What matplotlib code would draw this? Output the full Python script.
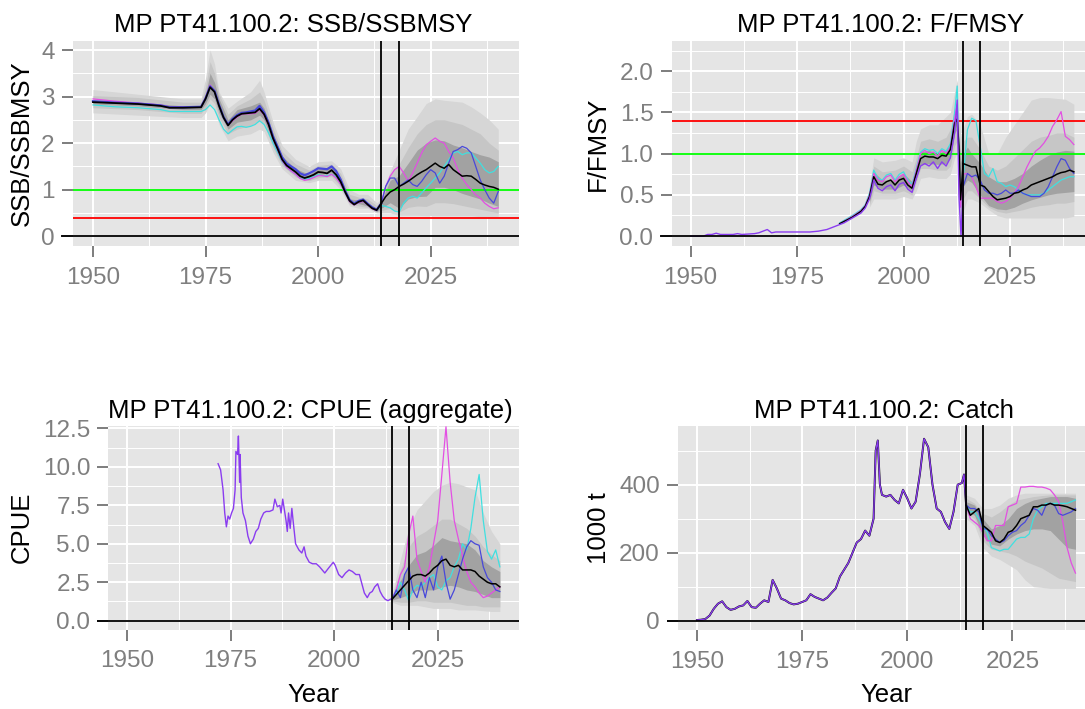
import matplotlib
matplotlib.use("Agg")
import matplotlib.pyplot as plt
import matplotlib.transforms as mtransforms

plt.rcParams['font.family'] = ['Liberation Sans', 'DejaVu Sans']

# ---------------------------------------------------------------- data
MP_NAME = "MP PT41.100.2"
TITLES = ["SSB/SSBMSY", "F/FMSY", "CPUE (aggregate)", "Catch"]
YLABELS = ["SSB/SSBMSY", "F/FMSY", "CPUE", "1000 t"]
X_TICKS = [1950, 1975, 2000, 2025]
X_MINOR = [1962.5, 1987.5, 2012.5, 2037.5]
REF_YEARS = [2014, 2018]

proj_yr = list(range(2014, 2041))

# SSB / SSBMSY
ssb_hist_yr = [1950, 1955, 1960, 1965, 1967, 1970, 1974, 1975, 1976, 1977, 1978, 1979, 1980,
               1981, 1982, 1983, 1984, 1985, 1986, 1987, 1988, 1989, 1990, 1991, 1992, 1993,
               1994, 1995, 1996, 1997, 1998, 1999, 2000, 2001, 2002, 2003, 2004, 2005, 2006,
               2007, 2008, 2009, 2010, 2011, 2012, 2013, 2014]
ssb_hist_med = [2.88, 2.86, 2.84, 2.80, 2.76, 2.76, 2.77, 2.95, 3.20, 3.10, 2.80, 2.55, 2.38,
                2.50, 2.58, 2.63, 2.64, 2.65, 2.66, 2.74, 2.62, 2.40, 2.10, 1.88, 1.65, 1.52,
                1.45, 1.38, 1.29, 1.25, 1.28, 1.32, 1.38, 1.37, 1.35, 1.42, 1.32, 1.17, 0.95,
                0.76, 0.68, 0.74, 0.77, 0.68, 0.60, 0.56, 0.70]
ssb_hist_cyan = [2.82, 2.78, 2.76, 2.72, 2.68, 2.68, 2.68, 2.72, 2.82, 2.72, 2.50, 2.30, 2.20,
                 2.28, 2.35, 2.36, 2.34, 2.36, 2.40, 2.48, 2.40, 2.22, 2.00, 1.80, 1.60, 1.48,
                 1.40, 1.33, 1.25, 1.22, 1.25, 1.28, 1.32, 1.30, 1.30, 1.33, 1.28, 1.12, 0.93,
                 0.75, 0.68, 0.72, 0.76, 0.67, 0.60, 0.55, 0.66]
ssb_hist_mag = [2.95, 2.90, 2.86, 2.82, 2.78, 2.78, 2.78, 2.98, 3.25, 3.12, 2.82, 2.55, 2.38,
                2.48, 2.56, 2.62, 2.63, 2.63, 2.64, 2.72, 2.60, 2.38, 2.08, 1.85, 1.62, 1.48,
                1.40, 1.33, 1.24, 1.20, 1.22, 1.26, 1.30, 1.30, 1.28, 1.33, 1.25, 1.12, 0.93,
                0.74, 0.67, 0.72, 0.75, 0.67, 0.59, 0.55, 0.70]
ssb_hist_blue = [2.90, 2.87, 2.85, 2.81, 2.77, 2.77, 2.78, 2.96, 3.22, 3.12, 2.82, 2.56, 2.40,
                 2.52, 2.60, 2.65, 2.66, 2.68, 2.70, 2.80, 2.66, 2.44, 2.14, 1.92, 1.70, 1.56,
                 1.50, 1.44, 1.35, 1.31, 1.35, 1.40, 1.46, 1.45, 1.44, 1.50, 1.40, 1.22, 0.98,
                 0.78, 0.70, 0.76, 0.79, 0.70, 0.62, 0.57, 0.70]
ssb_proj_med = [0.70, 0.85, 0.95, 1.00, 1.07, 1.12, 1.18, 1.25, 1.32, 1.38, 1.43, 1.50, 1.57, 1.50,
                1.46, 1.54, 1.43, 1.36, 1.29, 1.30, 1.29, 1.22, 1.14, 1.10, 1.07, 1.05, 1.01]
ssb_proj_mag = [0.70, 1.07, 1.29, 1.43, 1.50, 1.36, 1.18, 1.36, 1.57, 1.79, 1.96, 2.04, 2.11, 2.04,
                2.00, 1.82, 1.68, 1.43, 1.25, 1.11, 1.00, 0.89, 0.82, 0.71, 0.64, 0.59, 0.61]
ssb_proj_cyan = [0.66, 0.64, 0.61, 0.54, 0.52, 0.71, 0.82, 0.86, 0.82, 0.93, 1.04, 1.14, 1.25, 1.36,
                 1.50, 1.64, 1.79, 1.82, 1.75, 1.79, 1.79, 1.68, 1.57, 1.43, 1.36, 1.39, 1.50]
ssb_proj_blue = [0.70, 1.07, 1.25, 1.25, 1.07, 1.14, 1.21, 1.11, 1.07, 1.18, 1.32, 1.43, 1.36, 1.14,
                 1.29, 1.57, 1.82, 1.86, 1.93, 1.89, 1.79, 1.50, 1.21, 1.00, 0.82, 0.71, 0.96]
ssb_band_yr = [1950, 1960, 1970, 1974, 1975, 1976, 1977, 1978, 1980, 1982, 1985, 1987, 1988,
               1990, 1992, 1995, 1998, 2000, 2003, 2005, 2007, 2009, 2011, 2013, 2014, 2016,
               2018, 2020, 2022, 2024, 2026, 2028, 2030, 2032, 2034, 2036, 2038, 2040]
ssb_outer_lo = [2.65, 2.60, 2.55, 2.55, 2.65, 2.85, 2.75, 2.40, 2.05, 2.15, 2.20, 2.30, 2.25,
                1.80, 1.45, 1.20, 1.15, 1.20, 1.20, 1.00, 0.65, 0.60, 0.60, 0.50, 0.50, 0.50,
                0.45, 0.45, 0.45, 0.44, 0.44, 0.44, 0.44, 0.44, 0.44, 0.42, 0.42, 0.42]
ssb_outer_hi = [3.15, 3.05, 2.95, 2.95, 3.40, 4.00, 3.70, 3.10, 2.75, 2.90, 3.10, 3.35, 3.10,
                2.45, 1.95, 1.65, 1.50, 1.60, 1.62, 1.45, 1.00, 0.90, 0.90, 0.72, 0.80, 1.40,
                1.85, 2.30, 2.57, 2.85, 2.95, 2.92, 2.90, 2.88, 2.78, 2.65, 2.50, 2.30]
ssb_mid_lo = [2.76, 2.72, 2.64, 2.64, 2.76, 2.95, 2.85, 2.55, 2.20, 2.30, 2.38, 2.48, 2.40,
              1.90, 1.52, 1.27, 1.19, 1.26, 1.28, 1.06, 0.69, 0.65, 0.62, 0.52, 0.55, 0.60,
              0.52, 0.62, 0.65, 0.64, 0.72, 0.72, 0.70, 0.66, 0.62, 0.58, 0.54, 0.50]
ssb_mid_hi = [3.02, 2.98, 2.88, 2.88, 3.20, 3.75, 3.50, 3.05, 2.62, 2.80, 2.95, 3.10, 2.92,
              2.32, 1.82, 1.55, 1.42, 1.52, 1.55, 1.35, 0.90, 0.84, 0.80, 0.66, 0.80, 1.30,
              1.55, 1.90, 2.20, 2.40, 2.50, 2.50, 2.45, 2.40, 2.30, 2.20, 2.00, 1.85]
ssb_inner_lo = [2.84, 2.80, 2.72, 2.72, 2.85, 3.05, 2.95, 2.65, 2.30, 2.45, 2.50, 2.60, 2.50,
                2.00, 1.58, 1.33, 1.23, 1.32, 1.36, 1.12, 0.72, 0.70, 0.65, 0.53, 0.60, 0.72,
                0.60, 0.80, 0.85, 0.86, 1.05, 1.05, 1.00, 0.92, 0.86, 0.80, 0.71, 0.64]
ssb_inner_hi = [2.92, 2.88, 2.80, 2.80, 3.05, 3.50, 3.30, 2.95, 2.50, 2.72, 2.80, 2.88, 2.75,
                2.20, 1.72, 1.45, 1.33, 1.45, 1.48, 1.24, 0.80, 0.78, 0.72, 0.60, 0.75, 1.20,
                1.30, 1.57, 1.85, 2.00, 2.07, 2.05, 1.96, 1.90, 1.82, 1.75, 1.70, 1.60]

# F / FMSY
f_hist_yr = [1950, 1953, 1954, 1955, 1956, 1957, 1960, 1961, 1962, 1965, 1966, 1967, 1968,
             1969, 1970, 1975, 1978, 1980, 1982, 1984, 1986, 1988, 1990, 1991, 1992, 1992.5,
             1993, 1994, 1995, 1996, 1997, 1998, 1999, 2000, 2001, 2002, 2003, 2004, 2005,
             2006, 2007, 2008, 2009, 2010, 2011, 2012, 2012.6, 2013, 2013.5, 2014]
f_hist_obs = [0.00, 0.00, 0.02, 0.02, 0.035, 0.02, 0.02, 0.03, 0.02, 0.03, 0.04, 0.06, 0.08,
              0.04, 0.05, 0.05, 0.05, 0.06, 0.08, 0.12, 0.16, 0.22, 0.28, 0.34, 0.45, 0.55,
              0.68, 0.58, 0.55, 0.60, 0.62, 0.55, 0.63, 0.65, 0.57, 0.53, 0.70, 0.85, 0.88,
              0.85, 0.90, 0.82, 0.90, 0.85, 0.95, 1.25, 1.65, 0.50, 0.00, 0.60]
f_sim_yr = [1985, 1988, 1990, 1991, 1992, 1992.5, 1993, 1994, 1995, 1996, 1997, 1998, 1999,
            2000, 2001, 2002, 2003, 2004, 2005, 2006, 2007, 2008, 2009, 2010, 2011, 2012,
            2012.6, 2013, 2013.4, 2014]
f_sim_med = [0.15, 0.23, 0.30, 0.36, 0.48, 0.60, 0.72, 0.63, 0.62, 0.66, 0.68, 0.62, 0.68,
             0.70, 0.62, 0.58, 0.76, 0.94, 0.97, 0.96, 0.96, 0.94, 0.98, 0.97, 1.05, 1.37,
             1.42, 1.09, 0.44, 0.88]
f_sim_cyan = [0.16, 0.25, 0.32, 0.38, 0.52, 0.65, 0.80, 0.70, 0.68, 0.74, 0.76, 0.68, 0.75,
              0.78, 0.68, 0.63, 0.82, 1.02, 1.06, 1.04, 1.05, 1.00, 1.06, 1.03, 1.12, 1.50,
              1.82, 1.00, 0.40, 0.70]
f_sim_mag = [0.15, 0.24, 0.31, 0.37, 0.50, 0.62, 0.76, 0.68, 0.66, 0.72, 0.74, 0.66, 0.72,
             0.75, 0.66, 0.60, 0.80, 1.00, 1.04, 1.00, 1.02, 0.97, 1.04, 1.00, 1.08, 1.42,
             1.60, 0.90, 0.35, 0.75]
f_proj_med = [0.88, 0.86, 0.84, 0.84, 0.62, 0.60, 0.54, 0.48, 0.44, 0.45, 0.46, 0.48, 0.52, 0.53,
              0.56, 0.58, 0.62, 0.64, 0.66, 0.68, 0.70, 0.72, 0.75, 0.77, 0.78, 0.80, 0.78]
f_proj_cyan = [0.70, 1.29, 1.43, 1.40, 1.09, 0.76, 0.72, 0.82, 0.66, 0.64, 0.60, 0.62, 0.60, 0.56,
               0.52, 0.50, 0.50, 0.50, 0.50, 0.52, 0.56, 0.60, 0.64, 0.68, 0.70, 0.72, 0.72]
f_proj_mag = [0.75, 0.76, 0.72, 0.60, 0.46, 0.46, 0.46, 0.46, 0.42, 0.40, 0.42, 0.46, 0.52, 0.60,
              0.72, 0.84, 0.94, 1.03, 1.07, 1.13, 1.21, 1.33, 1.41, 1.51, 1.21, 1.17, 1.11]
f_proj_blue = [0.60, 0.76, 0.72, 0.74, 0.68, 0.56, 0.52, 0.52, 0.50, 0.52, 0.56, 0.52, 0.52, 0.56,
               0.52, 0.50, 0.48, 0.48, 0.48, 0.52, 0.60, 0.72, 0.84, 0.94, 0.92, 0.82, 0.76]
f_band_yr = [1992, 1993, 1995, 1998, 2000, 2002, 2003, 2004, 2006, 2008, 2010, 2011, 2012,
             2012.6, 2013, 2013.5, 2014, 2015, 2016, 2018, 2020, 2022, 2024, 2026, 2028, 2030,
             2032, 2034, 2036, 2038, 2040]
f_outer_lo = [0.35, 0.45, 0.45, 0.45, 0.48, 0.45, 0.55, 0.70, 0.72, 0.70, 0.70, 0.75, 0.95,
              1.00, 0.50, 0.00, 0.30, 0.45, 0.45, 0.40, 0.32, 0.25, 0.22, 0.22, 0.22, 0.22,
              0.22, 0.22, 0.22, 0.22, 0.24]
f_outer_hi = [0.60, 0.95, 0.90, 0.92, 0.95, 0.90, 1.15, 1.30, 1.35, 1.35, 1.45, 1.50, 1.75,
              1.90, 1.50, 1.20, 1.30, 1.45, 1.48, 1.35, 1.00, 1.00, 1.20, 1.35, 1.50, 1.65,
              1.68, 1.68, 1.67, 1.66, 1.60]
f_mid_lo = [0.38, 0.55, 0.52, 0.52, 0.55, 0.50, 0.65, 0.82, 0.82, 0.80, 0.80, 0.85, 1.10,
            1.15, 0.70, 0.20, 0.45, 0.55, 0.55, 0.45, 0.35, 0.30, 0.28, 0.30, 0.32, 0.35,
            0.37, 0.38, 0.40, 0.40, 0.42]
f_mid_hi = [0.55, 0.85, 0.78, 0.80, 0.85, 0.78, 0.95, 1.15, 1.18, 1.15, 1.20, 1.30, 1.55,
            1.60, 1.30, 1.00, 1.15, 1.20, 1.20, 1.05, 0.85, 0.80, 0.85, 0.95, 1.05, 1.15,
            1.20, 1.22, 1.25, 1.25, 1.20]
f_inner_lo = [0.42, 0.62, 0.57, 0.57, 0.62, 0.55, 0.70, 0.87, 0.88, 0.87, 0.88, 0.95, 1.25,
              1.30, 0.90, 0.40, 0.60, 0.68, 0.65, 0.50, 0.37, 0.33, 0.32, 0.35, 0.40, 0.44,
              0.47, 0.50, 0.52, 0.53, 0.54]
f_inner_hi = [0.50, 0.78, 0.68, 0.68, 0.76, 0.66, 0.82, 1.02, 1.04, 1.00, 1.05, 1.12, 1.45,
              1.48, 1.15, 0.90, 1.00, 1.08, 1.00, 0.88, 0.72, 0.66, 0.66, 0.70, 0.76, 0.85,
              0.92, 0.98, 1.02, 1.04, 1.03]

# CPUE (aggregate)
cpue_hist_yr = [1972.0, 1972.6, 1973.2, 1973.6, 1974.0, 1974.4, 1974.8, 1975.25, 1975.7, 1976.1,
                1976.3, 1976.7, 1976.9, 1977.2, 1977.3, 1977.6, 1978.0, 1978.6, 1979.2, 1979.8,
                1980.5, 1981.1, 1981.7, 1982.3, 1983.0, 1983.6, 1984.4, 1985.25, 1985.7, 1986.3,
                1986.9, 1987.2, 1987.6, 1988.0, 1988.4, 1988.7, 1989.0, 1989.4, 1989.8, 1990.1,
                1990.7, 1991.5, 1992.2, 1992.75, 1993.2, 1994.0, 1994.8, 1995.7, 1996.5, 1997.75,
                1998.6, 1999.8, 2000.25, 2001.1, 2001.9, 2002.75, 2003.6, 2004.4, 2005.25, 2006.1,
                2006.7, 2007.3, 2008.0, 2008.6, 2009.2, 2009.8, 2010.5, 2011.1, 2011.7, 2012.3,
                2013.0, 2013.6]
cpue_hist = [10.2, 9.8, 8.5, 7.0, 6.1, 6.8, 6.6, 7.0, 7.3, 8.5,
             11.0, 10.8, 12.0, 9.0, 10.8, 8.0, 7.0, 6.5, 5.5, 5.0,
             5.3, 5.8, 6.0, 6.6, 7.0, 7.1, 7.1, 7.2, 7.9, 7.4,
             7.5, 7.0, 7.9, 7.2, 6.5, 5.8, 7.0, 6.0, 7.3, 6.5,
             5.0, 4.6, 4.4, 4.8, 4.2, 3.8, 3.7, 3.7, 3.5, 3.1,
             3.4, 3.8, 3.6, 3.0, 2.8, 3.1, 3.3, 3.2, 3.0, 3.0,
             2.4, 1.8, 1.5, 1.8, 1.9, 2.2, 2.4, 1.9, 1.6, 1.4,
             1.3, 1.4]
cpue_proj_med = [1.4, 1.7, 2.0, 2.3, 2.6, 2.9, 3.0, 3.0, 2.9, 3.1, 3.4, 3.6, 3.9, 4.0,
                 3.6, 3.5, 3.6, 3.3, 3.3, 3.3, 3.2, 2.9, 2.7, 2.5, 2.4, 2.4, 2.2]
cpue_proj_mag = [1.4, 2.0, 3.0, 3.5, 5.6, 6.8, 4.0, 3.2, 2.5, 3.5, 5.0, 6.5, 9.5, 12.6,
                 9.0, 6.5, 5.3, 4.2, 3.2, 2.5, 2.2, 1.8, 1.5, 1.6, 1.8, 2.0, 2.2]
cpue_proj_cyan = [1.4, 1.8, 2.5, 2.0, 1.3, 2.0, 2.3, 2.2, 2.5, 2.8, 3.0, 2.2, 2.0, 2.6,
                  2.8, 3.5, 4.0, 5.0, 4.6, 6.0, 8.0, 9.5, 6.5, 4.5, 4.0, 4.6, 3.5]
cpue_proj_blue = [1.4, 2.0, 1.5, 3.0, 3.5, 2.0, 1.5, 2.5, 1.5, 2.8, 2.0, 3.5, 4.2, 2.5,
                  1.4, 2.0, 3.0, 4.0, 4.8, 5.2, 5.0, 4.9, 3.5, 2.8, 2.5, 2.0, 1.9]
cpue_band_yr = [2013.6, 2014, 2016, 2018, 2020, 2022, 2024, 2026, 2028, 2030, 2032, 2034,
                2036, 2038, 2040]
cpue_outer_lo = [1.3, 1.2, 1.0, 1.0, 1.0, 0.9, 0.8, 0.8, 0.8, 0.7, 0.7, 0.7, 0.65, 0.6, 0.6]
cpue_outer_hi = [1.45, 1.7, 4.0, 6.0, 7.2, 7.8, 8.4, 8.8, 9.0, 8.9, 8.7, 8.5, 7.0, 5.8, 5.0]
cpue_mid_lo = [1.3, 1.3, 1.2, 1.2, 1.3, 1.3, 1.2, 1.2, 1.2, 1.1, 1.0, 1.0, 0.9, 0.9, 0.9]
cpue_mid_hi = [1.45, 1.6, 3.3, 4.8, 5.5, 5.8, 6.2, 6.6, 6.6, 6.3, 6.0, 5.5, 4.8, 4.3, 3.9]
cpue_inner_lo = [1.35, 1.35, 1.5, 1.7, 2.0, 2.0, 2.0, 2.2, 2.3, 2.2, 2.0, 1.9, 1.7, 1.5, 1.5]
cpue_inner_hi = [1.45, 1.55, 2.6, 3.6, 4.3, 4.5, 4.9, 5.4, 5.2, 5.1, 5.0, 4.6, 3.9, 3.5, 3.2]

# Catch (1000 t)
catch_hist_yr = [1950, 1951, 1952, 1953, 1954, 1955, 1956, 1957, 1958, 1959, 1960, 1961, 1962,
                 1963, 1964, 1965, 1966, 1967, 1968, 1969, 1970, 1971, 1972, 1973, 1974, 1975,
                 1976, 1977, 1978, 1979, 1980, 1981, 1982, 1983, 1984, 1985, 1986, 1987, 1988,
                 1989, 1990, 1991, 1992, 1992.5, 1993, 1993.5, 1994, 1995, 1996, 1997, 1998,
                 1999, 2000, 2001, 2002, 2003, 2004, 2005, 2006, 2007, 2008, 2009, 2010, 2011,
                 2012, 2013, 2013.5, 2014]
catch_hist = [2, 3, 5, 15, 35, 50, 57, 40, 32, 35, 42, 45, 58,
              40, 38, 50, 60, 55, 120, 95, 65, 60, 52, 48, 50, 55,
              60, 78, 70, 65, 60, 68, 82, 95, 130, 150, 170, 200, 230,
              240, 265, 250, 300, 500, 530, 400, 370, 365, 370, 355, 345,
              385, 360, 330, 350, 430, 535, 510, 400, 330, 320, 290, 270, 320,
              400, 405, 430, 340]
catch_proj_med = [340, 310, 320, 330, 280, 270, 260, 235, 230, 240, 260, 265, 280, 300,
                  305, 310, 335, 335, 340, 340, 345, 340, 340, 338, 335, 330, 325]
catch_proj_mag = [340, 300, 290, 280, 260, 235, 235, 280, 280, 280, 335, 340, 345, 393,
                  393, 395, 395, 393, 393, 390, 385, 370, 350, 290, 215, 170, 140]
catch_proj_cyan = [340, 320, 320, 300, 280, 260, 215, 210, 205, 210, 210, 225, 240, 245,
                   245, 255, 300, 325, 335, 345, 345, 345, 345, 345, 345, 350, 355]
catch_proj_blue = [340, 330, 330, 320, 270, 270, 250, 240, 230, 235, 250, 260, 265, 280,
                   290, 310, 330, 325, 310, 340, 345, 340, 315, 310, 315, 320, 330]
catch_band_yr = [2014, 2016, 2018, 2020, 2022, 2024, 2026, 2028, 2030, 2032, 2034, 2036,
                 2038, 2040]
catch_outer_lo = [300, 280, 215, 190, 180, 165, 150, 120, 100, 98, 95, 95, 95, 95]
catch_outer_hi = [370, 360, 330, 330, 340, 360, 370, 375, 375, 375, 375, 375, 375, 375]
catch_mid_lo = [315, 300, 235, 210, 205, 200, 190, 175, 165, 155, 140, 125, 120, 115]
catch_mid_hi = [360, 345, 315, 305, 320, 340, 355, 360, 365, 368, 370, 370, 370, 370]
catch_inner_lo = [325, 310, 250, 225, 220, 240, 255, 265, 270, 270, 265, 240, 215, 210]
catch_inner_hi = [350, 340, 300, 270, 280, 300, 330, 345, 355, 360, 365, 365, 365, 360]

# ---------------------------------------------------------------- style
BG = '#E5E5E5'
BAND_OUTER, BAND_MID, BAND_INNER = '#D6D6D6', '#C6C6C6', '#A2A2A2'
C_CYAN, C_MAG, C_BLUE, C_HIST = '#40E0E0', '#E34FE3', '#4848DA', '#8A3CF0'
TICK_COL = '#7F7F7F'
FS_TICK, FS_LAB = 17.5, 18.5

W, H = 1085, 709
fig = plt.figure(figsize=(W / 100, H / 100), dpi=100)
fig.patch.set_facecolor('white')


def box(l, t, r, b):
    return [l / W, 1 - b / H, (r - l) / W, (b - t) / H]


def make_panel(px, ylim, yticks, ylabs, yminor, title, title_xy, ylabel, ylabel_x,
               year_label=False):
    l, t, r, b = px
    ax = fig.add_axes(box(l, t, r, b))
    ax.set_facecolor(BG)
    for s in ax.spines.values():
        s.set_visible(False)
    ax.set_xlim(1945.5, 2044.5)
    ax.set_ylim(*ylim)
    ax.set_xticks(X_TICKS)
    ax.set_xticklabels([str(v) for v in X_TICKS])
    ax.set_xticks(X_MINOR, minor=True)
    ax.set_yticks(yticks)
    ax.set_yticklabels(ylabs)
    ax.set_yticks(yminor, minor=True)
    ax.tick_params(which='minor', length=0)
    ax.tick_params(which='major', length=8, width=1.1, color='#5A5A5A',
                   labelcolor=TICK_COL, labelsize=FS_TICK)
    ax.tick_params(axis='x', pad=7)
    ax.tick_params(axis='y', pad=5)
    ax.grid(which='major', color='white', lw=1.4)
    ax.grid(which='minor', color='white', lw=0.7)
    ax.set_axisbelow(True)
    fig.text(title_xy[0] / W, 1 - title_xy[1] / H, f"{MP_NAME}: {title}",
             ha='center', va='baseline', fontsize=FS_LAB, color='black')
    fig.text(ylabel_x / W, 1 - (t + b) / 2 / H, ylabel, rotation=90,
             ha='center', va='center', fontsize=FS_LAB, color='black')
    if year_label:
        fig.text((l + r) / 2 / W, 1 - 702 / H, "Year", ha='center', va='baseline',
                 fontsize=FS_LAB, color='black')
    # zero line running out to the tick marks
    tick_frac = 11.5 / (r - l)
    trans = mtransforms.blended_transform_factory(ax.transAxes, ax.transData)
    ax.plot([-tick_frac, 1], [0, 0], color='black', lw=1.3, transform=trans,
            clip_on=False, zorder=8, solid_capstyle='butt')
    for yr in REF_YEARS:
        ax.axvline(yr, color='black', lw=1.3, zorder=8)
    return ax


def bands(ax, yr, olo, ohi, mlo, mhi, ilo, ihi):
    ax.fill_between(yr, olo, ohi, color=BAND_OUTER, lw=0, zorder=1)
    ax.fill_between(yr, mlo, mhi, color=BAND_MID, lw=0, zorder=2)
    ax.fill_between(yr, ilo, ihi, color=BAND_INNER, lw=0, zorder=3)


def sims(ax, x, cyan, mag, blue, med):
    ax.plot(x, cyan, color=C_CYAN, lw=0.9, zorder=5)
    ax.plot(x, mag, color=C_MAG, lw=0.9, zorder=5)
    ax.plot(x, blue, color=C_BLUE, lw=0.9, zorder=5)
    ax.plot(x, med, color='black', lw=1.1, zorder=6)


# ---- SSB/SSBMSY
ax1 = make_panel((72.7, 40.7, 518.5, 246), (-0.21, 4.2), [0, 1, 2, 3, 4],
                 ['0', '1', '2', '3', '4'], [0.5, 1.5, 2.5, 3.5], TITLES[0], (293, 32.5),
                 YLABELS[0], 21.7)
bands(ax1, ssb_band_yr, ssb_outer_lo, ssb_outer_hi, ssb_mid_lo, ssb_mid_hi,
      ssb_inner_lo, ssb_inner_hi)
ax1.axhline(1.0, color='#00FF00', lw=1.3, zorder=4)
ax1.axhline(0.4, color='#FF0000', lw=1.3, zorder=4)
ax1.plot(ssb_hist_yr, ssb_hist_cyan, color=C_CYAN, lw=0.9, zorder=5)
ax1.plot(ssb_hist_yr, ssb_hist_mag, color=C_MAG, lw=0.9, zorder=5)
ax1.plot(ssb_hist_yr, ssb_hist_blue, color=C_BLUE, lw=1.6, zorder=5)
ax1.plot(ssb_hist_yr, ssb_hist_med, color='black', lw=1.3, zorder=6)
sims(ax1, proj_yr, ssb_proj_cyan, ssb_proj_mag, ssb_proj_blue, ssb_proj_med)

# ---- F/FMSY
ax2 = make_panel((671.5, 40.7, 1093, 246), (-0.12, 2.37), [0, 0.5, 1.0, 1.5, 2.0],
                 ['0.0', '0.5', '1.0', '1.5', '2.0'], [0.25, 0.75, 1.25, 1.75, 2.25],
                 TITLES[1], (880.6, 32.5), YLABELS[1], 598.3)
bands(ax2, f_band_yr, f_outer_lo, f_outer_hi, f_mid_lo, f_mid_hi, f_inner_lo, f_inner_hi)
ax2.axhline(1.0, color='#00FF00', lw=1.3, zorder=4)
ax2.axhline(1.4, color='#FF0000', lw=1.3, zorder=4)
ax2.plot(f_sim_yr, f_sim_cyan, color=C_CYAN, lw=0.9, zorder=5)
ax2.plot(f_sim_yr, f_sim_mag, color=C_MAG, lw=0.9, zorder=5)
ax2.plot(f_sim_yr, f_sim_med, color='black', lw=1.1, zorder=6)
ax2.plot(f_hist_yr, f_hist_obs, color=C_HIST, lw=1.0, zorder=7)
sims(ax2, proj_yr, f_proj_cyan, f_proj_mag, f_proj_blue, f_proj_med)

# ---- CPUE
ax3 = make_panel((108.3, 426, 518.5, 629.5), (-0.57, 12.65), [0, 2.5, 5.0, 7.5, 10.0, 12.5],
                 ['0.0', '2.5', '5.0', '7.5', '10.0', '12.5'],
                 [1.25, 3.75, 6.25, 8.75, 11.25], TITLES[2], (310.8, 418.3), YLABELS[2], 21.7,
                 year_label=True)
bands(ax3, cpue_band_yr, cpue_outer_lo, cpue_outer_hi, cpue_mid_lo, cpue_mid_hi,
      cpue_inner_lo, cpue_inner_hi)
ax3.plot(cpue_hist_yr, cpue_hist, color=C_HIST, lw=1.0, zorder=5)
sims(ax3, proj_yr, cpue_proj_cyan, cpue_proj_mag, cpue_proj_blue, cpue_proj_med)

# ---- Catch
ax4 = make_panel((678, 425.5, 1094.4, 630), (-27.3, 574), [0, 200, 400], ['0', '200', '400'],
                 [100, 300, 500], TITLES[3], (884, 418.3), YLABELS[3], 599.3, year_label=True)
bands(ax4, catch_band_yr, catch_outer_lo, catch_outer_hi, catch_mid_lo, catch_mid_hi,
      catch_inner_lo, catch_inner_hi)
ax4.plot(catch_hist_yr, catch_hist, color='black', lw=1.4, zorder=5)
ax4.plot(catch_hist_yr, catch_hist, color=C_HIST, lw=1.0, zorder=5)
sims(ax4, proj_yr, catch_proj_cyan, catch_proj_mag, catch_proj_blue, catch_proj_med)

fig.savefig("out.png", dpi=100, facecolor='white')
